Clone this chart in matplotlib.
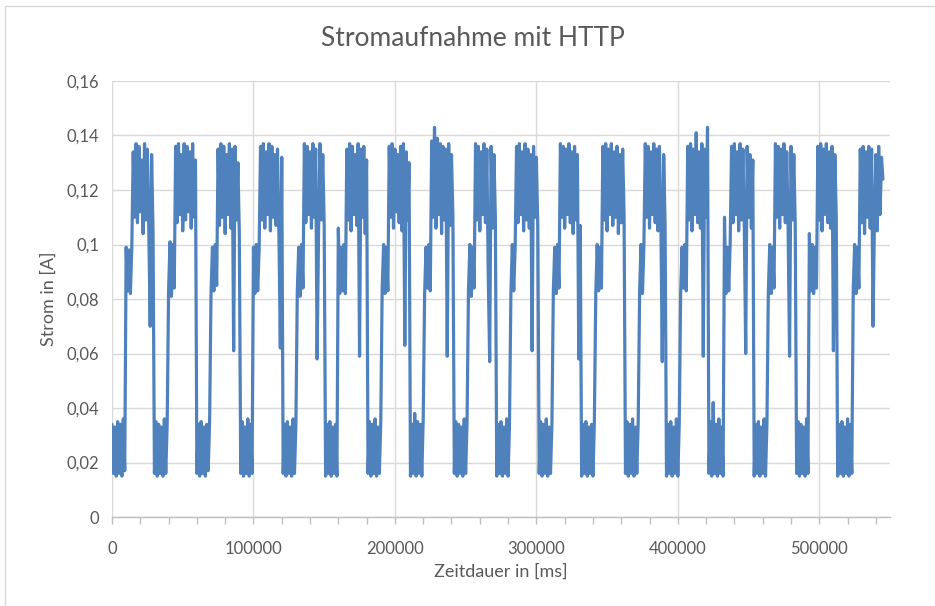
import numpy as np
import matplotlib
matplotlib.use("Agg")
import matplotlib.pyplot as plt
import matplotlib.ticker as ticker
from matplotlib.patches import Rectangle

# dense zig-zag trace: keep every vertex
plt.rcParams["path.simplify"] = False

# ── Data ──────────────────────────────────────────────────────────────────────
# Logged current in mA, one sample per second, grouped by request cycle
# (idle -> connect -> HTTP transfer).
SAMPLE_MS = 1000

cycle_01 = [34, 16, 33, 15, 35, 16, 34, 15, 36, 17,
            99, 83, 98, 82, 99,
            134, 110, 137, 108, 136, 112, 131, 104, 137, 109, 135, 106, 70, 133, 105]
cycle_02 = [16, 35, 15, 34, 16, 33, 15, 36, 16, 34,
            83, 101, 81, 100, 84,
            136, 108, 137, 111, 133, 105, 137, 109, 136, 112, 134, 106, 137, 110, 131]
cycle_03 = [16, 34, 15, 35, 16, 33, 15, 34, 17, 35,
            82, 99, 83, 100, 85,
            135, 107, 137, 110, 136, 104, 133, 111, 137, 106, 135, 61, 136, 109, 130, 104]
cycle_04 = [16, 35, 15, 33, 16, 36, 15, 34, 16,
            99, 82, 100, 83, 98,
            136, 109, 137, 106, 134, 111, 137, 105, 136, 110, 133, 107, 135, 104, 62, 132]
cycle_05 = [16, 34, 15, 35, 16, 33, 15, 36, 16, 34,
            83, 99, 81, 100, 84,
            137, 108, 136, 111, 134, 106, 137, 110, 135, 58, 104, 137, 109, 133, 107]
cycle_06 = [15, 34, 16, 35, 15, 33, 16, 34, 15,
            106, 82, 99, 83, 100, 82,
            135, 109, 137, 105, 136, 111, 133, 107, 137, 59, 135, 110, 136, 104, 131]
cycle_07 = [16, 35, 15, 34, 16, 36, 15, 33, 16, 35,
            84, 100, 82, 99, 83,
            136, 110, 137, 106, 135, 112, 133, 108, 136, 105, 137, 63, 134, 109, 130]
cycle_08 = [15, 34, 16, 38, 15, 35, 16, 34, 15, 36,
            82, 99, 84, 100, 83,
            138, 110, 143, 106, 139, 111, 137, 104, 136, 109, 135, 59, 137, 107, 133, 110]
cycle_09 = [16, 35, 15, 34, 16, 33, 15, 36, 16, 35,
            83, 100, 81, 99, 84,
            137, 109, 136, 105, 134, 111, 137, 108, 135, 88, 57, 136, 106, 133, 110]
cycle_10 = [15, 34, 16, 35, 15, 33, 16, 36, 15, 34,
            82, 100, 83, 99,
            136, 108, 137, 111, 134, 105, 137, 109, 135, 106, 133, 61, 136, 110, 132, 107]
cycle_11 = [16, 35, 15, 34, 16, 36, 15, 33, 16, 34,
            83, 99, 82, 100, 84,
            137, 110, 136, 106, 135, 111, 137, 108, 134, 104, 136, 109, 133, 58, 107]
cycle_12 = [15, 34, 16, 35, 15, 33, 16, 34, 15, 35,
            82, 100, 83, 99, 84,
            136, 109, 137, 105, 135, 111, 137, 107, 134, 110, 136, 104, 133, 108, 135, 111]
cycle_13 = [16, 35, 15, 34, 16, 36, 15, 33, 16, 35,
            83, 100, 82, 99,
            137, 110, 136, 106, 134, 111, 137, 108, 135, 105, 136, 109, 57, 133, 107]
cycle_14 = [15, 34, 16, 35, 15, 33, 16, 36, 15, 34,
            82, 99, 84, 100, 83,
            136, 109, 137, 105, 135, 111, 141, 108, 134, 106, 137, 59, 135, 110, 143]
cycle_15 = [16, 35, 15, 42, 16, 34, 15, 36, 16, 33, 15,
            110, 82, 99, 83, 100,
            136, 108, 137, 111, 134, 105, 137, 109, 135, 107, 60, 136, 110, 133, 106, 131]
cycle_16 = [15, 34, 16, 35, 15, 33, 16, 36, 15, 34,
            83, 100, 82, 99, 84,
            137, 110, 136, 106, 135, 111, 137, 108, 134, 105, 59, 136, 109, 133, 107]
cycle_17 = [16, 35, 15, 34, 16, 33, 15, 36, 16,
            104, 83, 100, 82, 99, 84,
            136, 109, 137, 105, 135, 111, 137, 108, 134, 106, 136, 61, 133, 110]
cycle_18 = [15, 34, 16, 35, 15, 33, 16, 36, 15, 34, 16,
            83, 100, 82, 99, 84,
            135, 108, 136, 104, 134, 110, 136, 106, 135, 70, 109, 133, 105, 136, 111, 132, 124]

CYCLES = [cycle_01, cycle_02, cycle_03, cycle_04, cycle_05, cycle_06,
          cycle_07, cycle_08, cycle_09, cycle_10, cycle_11, cycle_12,
          cycle_13, cycle_14, cycle_15, cycle_16, cycle_17, cycle_18]

Y_TICKS = [0, 0.02, 0.04, 0.06, 0.08, 0.1, 0.12, 0.14, 0.16]
Y_TICK_LABELS = ["0", "0,02", "0,04", "0,06", "0,08", "0,1", "0,12", "0,14", "0,16"]
X_TICKS = [0, 100000, 200000, 300000, 400000, 500000]

current_a = np.concatenate([np.array(c, dtype=float) for c in CYCLES]) / 1000.0
time_ms = np.arange(len(current_a)) * SAMPLE_MS

# ── Style ─────────────────────────────────────────────────────────────────────
C_LINE = "#4F81BD"
C_GRID = "#D9D9D9"
C_AXIS = "#BFBFBF"
C_TEXT = "#595959"
FONT = "Lato"

W, H = 935, 606
fig = plt.figure(figsize=(W / 100, H / 100), dpi=100)
fig.patch.set_facecolor("white")

# chart border (Excel chart area outline)
fig.patches.append(Rectangle((5 / W, -0.1), 1.2, 1 - 6 / H + 0.1,
                             transform=fig.transFigure, fill=False,
                             edgecolor=C_GRID, linewidth=1.0))

ax = fig.add_axes([112 / W, 1 - 517 / H, (890 - 112) / W, (517 - 81) / H])

ax.plot(time_ms, current_a, color=C_LINE, linewidth=2.3,
        solid_joinstyle="round", solid_capstyle="round", zorder=3)

ax.set_xlim(0, 550000)
ax.set_ylim(0, 0.16)
ax.set_xticks(X_TICKS)
ax.set_xticklabels([str(v) for v in X_TICKS])
ax.xaxis.set_minor_locator(ticker.MultipleLocator(20000))
ax.set_yticks(Y_TICKS)
ax.set_yticklabels(Y_TICK_LABELS)

ax.grid(True, which="major", color=C_GRID, linewidth=1.0)
ax.set_axisbelow(True)
for side in ["top", "right", "left"]:
    ax.spines[side].set_visible(False)
ax.spines["bottom"].set_color(C_AXIS)
ax.spines["bottom"].set_linewidth(1.0)

ax.tick_params(axis="y", length=0, pad=9, labelsize=12, labelcolor=C_TEXT)
ax.tick_params(axis="x", which="both", direction="out", color=C_AXIS,
               length=5, width=1.0)
ax.tick_params(axis="x", which="major", pad=12, labelsize=12, labelcolor=C_TEXT)
for lbl in ax.get_xticklabels() + ax.get_yticklabels():
    lbl.set_fontfamily(FONT)

ax.set_xlabel("Zeitdauer in [ms]", fontsize=13, color=C_TEXT,
              fontfamily=FONT, labelpad=5)
ax.set_ylabel("Strom in [A]", fontsize=13, color=C_TEXT,
              fontfamily=FONT, labelpad=7)

fig.text(473 / W, 1 - 38 / H, "Stromaufnahme mit HTTP", ha="center",
         va="center", fontsize=19, color=C_TEXT, fontfamily=FONT)

fig.savefig("out.png", dpi=100, facecolor="white")
